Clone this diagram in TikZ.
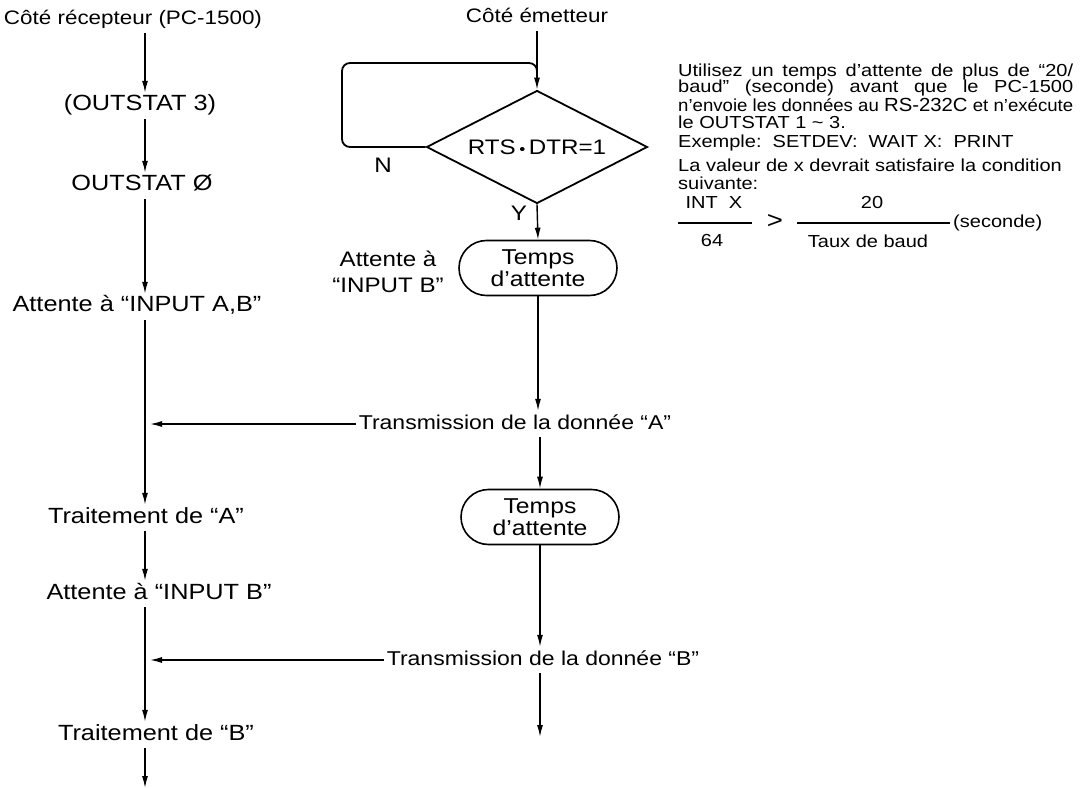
\documentclass[tikz,border=0pt]{standalone}
\usepackage{fontspec}
\usepackage{graphicx}
\setmainfont{Liberation Sans}[FakeStretch=1.15]
\usetikzlibrary{shapes.geometric,shapes.misc,arrows.meta,calc}
\newcommand\fA{\fontsize{22}{24}\selectfont}
\newcommand\fC{\fontsize{19.5}{22}\selectfont}
\newcommand\fB{\fontsize{21}{24}\selectfont}
\newcommand\fT{\fontsize{20}{22}\selectfont}
\newcommand\fW{\fontsize{21.5}{22}\selectfont}
\newcommand\fN{\fontsize{17.4}{16.8}\selectfont}
\begin{document}
\begin{tikzpicture}[x=1pt,y=-1pt,
  lab/.style={inner xsep=3pt,inner ysep=3pt,text height=15pt,text depth=5pt,font=\fA},
  arr/.style={line width=1.4pt,-{Latex[length=12pt,width=6pt]}},
  ln/.style={line width=1.4pt},
  capsule/.style={draw,rounded rectangle,line width=1.6pt,minimum width=162pt,minimum height=55pt,align=center,font=\fW,inner sep=2pt},
  note/.style={anchor=west,inner sep=0pt,font=\fN},
  notec/.style={inner sep=0pt,font=\fN},
]
\fill[white] (0,0) rectangle (1082,788);
\coordinate (lx) at (145,0);
\coordinate (lxh) at (150,0);

% receiver side
\node[lab,font=\fC] (r0) at (133,20) {Côté récepteur (PC-1500)};
\node[lab] (r1) at (140,106) {(OUTSTAT 3)};
\node[lab] (r2) at (142,186) {OUTSTAT Ø};
\node[lab] (r3) at (137,307) {Attente à “INPUT A,B”};
\node[lab] (r4) at (146,518) {Traitement de “A”};
\node[lab] (r5) at (159,594) {Attente à “INPUT B”};
\node[lab] (r6) at (156,735) {Traitement de “B”};
\coordinate (rend) at (145,788);
\draw[arr] (r0.south -| lx) -- (r1.north -| lx);
\draw[arr] (r1.south -| lx) -- (r2.north -| lx);
\draw[arr] (r2.south -| lx) -- (r3.north -| lx);
\draw[arr] (r3.south -| lx) -- (r4.north -| lx);
\draw[arr] (r4.south -| lx) -- (r5.north -| lx);
\draw[arr] (r5.south -| lx) -- (r6.north -| lx);
\draw[arr] (r6.south -| lx) -- (rend);

% sender side
\node[lab,font=\fC] (e0) at (537,18) {Côté émetteur};
\node[draw,diamond,line width=1.8pt,minimum width=221pt,minimum height=113pt,aspect=1.96,inner sep=0pt,font=\fB] (dec) at (537,147) {RTS\,{\fontsize{15}{15}\selectfont •}\,DTR=1};
\draw[arr] (e0.south -| dec.north) -- (dec.north);
\coordinate (lp1) at (342,147);
\coordinate (lp2) at (342,63);
\coordinate (lp3) at (537,63);
\draw[ln,line width=1.8pt,rounded corners=8pt] (dec.west) -- (lp1) -- (lp2) -- (lp3) -- ($(lp3)+(0,12)$);
\node[font=\fB] (nlab) at (383,165) {N};
\node[font=\fB] (ylab) at (519,213) {Y};
\node[capsule] (w1) at (538,268) {Temps\\d’attente};
\draw[arr] (dec.south) -- (w1.north);
\node[align=center,font=\fB,inner sep=0pt] (wl) at (388,272) {Attente à\\[2pt]“INPUT B”};
\node[lab,font=\fT] (ta) at (515,424) {Transmission de la donnée “A”};
\draw[arr] (w1.south) -- (ta.north -| w1.south);
\draw[arr] (ta.west) -- (ta.west -| lxh);
\node[capsule] (w2) at (540,517) {Temps\\d’attente};
\draw[arr] (ta.south -| w2.north) -- (w2.north);
\node[lab,font=\fT] (tb) at (543,660) {Transmission de la donnée “B”};
\draw[arr] (w2.south) -- (tb.north -| w2.south);
\draw[arr] (tb.west) -- (tb.west -| lxh);
\coordinate (eend) at (540,737);
\draw[arr] (tb.south -| eend) -- (eend);

% note
\node[note] (n1) at (678,72) {\makebox[395pt][s]{Utilisez un temps d’attente de plus de “20/}};
\node[note] (n2) at (678,88) {\makebox[395pt][s]{baud” (seconde) avant que le PC-1500}};
\node[note] (n3) at (678,105) {\resizebox{395pt}{\height}{n’envoie les données au {\fontsize{19}{16.8}\selectfont RS-232C} et n’exécute}};
\node[note] (n4) at (678,122) {le OUTSTAT 1 \textasciitilde{} 3.};
\node[note] (n5) at (678,143) {Exemple:\ \ SETDEV:\ \ WAIT X:\ \ PRINT};
\node[note] (n6) at (678,165) {La valeur de x devrait satisfaire la condition};
\node[note] (n7) at (678,183) {suivante:};
\node[notec] (fx) at (714,203) {INT\ \ X};
\node[notec] (f64) at (712,241) {64};
\coordinate (fl1a) at (678,223);
\coordinate (fl1b) at (752,223);
\draw[line width=1.2pt] (fl1a) -- (fl1b);
\node[notec,font=\fontsize{24}{24}\selectfont] (fgt) at (775,222) {>};
\node[notec] (f20) at (872,203) {20};
\node[notec] (ftb) at (868,241) {Taux de baud};
\coordinate (fl2a) at (797,223);
\coordinate (fl2b) at (950,223);
\draw[line width=1.2pt] (fl2a) -- (fl2b);
\node[note] (fsec) at (953,223) {(seconde)};
\end{tikzpicture}
\end{document}
